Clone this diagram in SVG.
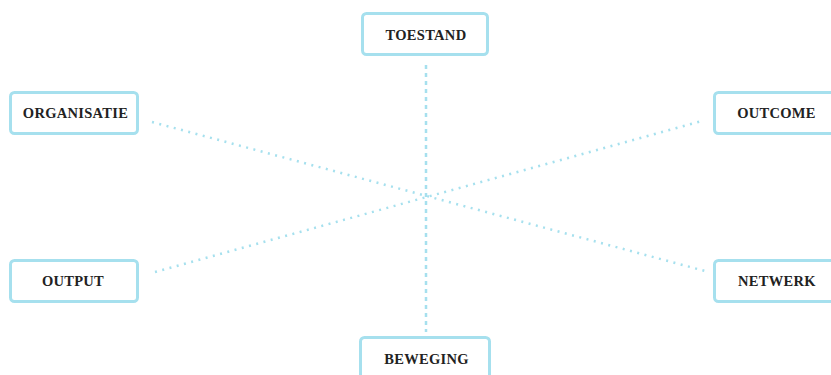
<svg xmlns="http://www.w3.org/2000/svg" width="831" height="375" viewBox="0 0 831 375">
<style>
.box{fill:#fff;stroke:#a6e0ee;stroke-width:3}
.lbl{font-family:"Liberation Serif",serif;font-size:14.5px;font-weight:bold;letter-spacing:0.3px;fill:#222;text-anchor:middle}
.v{stroke:#a6e0ee;stroke-width:2.5;stroke-dasharray:4 4;fill:none}
.d{stroke:#a6e0ee;stroke-width:2.5;stroke-dasharray:2 5.5;fill:none}
</style>
<rect width="831" height="375" fill="#fff"/>
<g id="connectors">
<line class="v" x1="426" y1="65" x2="426" y2="332"/>
<line class="d" x1="152" y1="122" x2="705" y2="271"/>
<line class="d" x1="155" y1="272" x2="702" y2="121"/>
</g>
<g id="toestand"><rect class="box" x="362.5" y="13.5" width="125" height="41" rx="4"/><text class="lbl" x="426" y="40">TOESTAND</text></g>
<g id="organisatie"><rect class="box" x="10.5" y="92.5" width="127" height="41" rx="4"/><text class="lbl" x="75.5" y="118">ORGANISATIE</text></g>
<g id="outcome"><rect class="box" x="714.5" y="92.5" width="125" height="41" rx="4"/><text class="lbl" x="776.5" y="118">OUTCOME</text></g>
<g id="output"><rect class="box" x="10.5" y="260.5" width="127" height="41" rx="4"/><text class="lbl" x="73" y="286">OUTPUT</text></g>
<g id="netwerk"><rect class="box" x="714.5" y="260.5" width="125" height="41" rx="4"/><text class="lbl" x="777" y="286">NETWERK</text></g>
<g id="beweging"><rect class="box" x="360.5" y="337.5" width="129" height="44" rx="4"/><text class="lbl" x="426.5" y="364">BEWEGING</text></g>
</svg>
